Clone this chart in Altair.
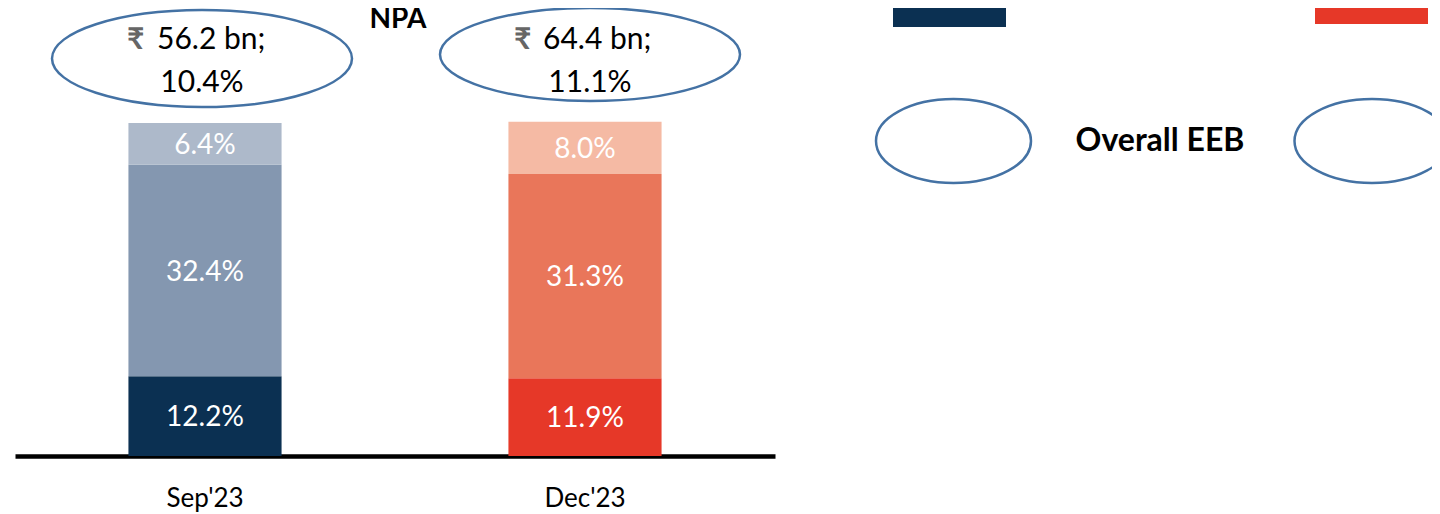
import altair as alt
import pandas as pd

# ---- data ----
periods = ["Sep'23", "Dec'23"]
segments = ["Segment 1", "Segment 2", "Segment 3"]          # bottom -> top
sep_values = [12.2, 32.4, 6.4]
dec_values = [11.9, 31.3, 8.0]
npa_amount_bn = [56.2, 64.4]
npa_ratio_pct = [10.4, 11.1]
right_row_label = "Overall EEB"
title_text = "NPA"

sep_colors = ["#0B3052", "#8497B0", "#ADB9CA"]
dec_colors = ["#E63828", "#E9765A", "#F5BAA4"]

FONT = "Lato"

rows = []
for p, vals in zip(periods, [sep_values, dec_values]):
    for i, (s, v) in enumerate(zip(segments, vals)):
        rows.append({"period": p, "segment": s, "order": i, "value": v,
                     "key": f"{p}|{s}", "label": f"{v:.1f}%"})
df = pd.DataFrame(rows)

keys = [f"{p}|{s}" for p in periods for s in segments]
color_range = sep_colors + dec_colors

ann = pd.DataFrame({
    "period": periods,
    "amount": [f"{a:.1f} bn;" for a in npa_amount_bn],
    "ratio": [f"{r:.1f}%" for r in npa_ratio_pct],
    "rupee": ["₹"] * len(periods),
})

x_enc = alt.X(
    "period:N",
    sort=periods,
    title=None,
    scale=alt.Scale(domain=periods, range=[7, 767], paddingInner=0.597, paddingOuter=0.2985),
    axis=alt.Axis(
        labelAngle=0, ticks=False, tickSize=0, grid=False,
        domainColor="#000000", domainWidth=4.5,
        labelFont=FONT, labelFontSize=26, labelColor="#000000",
        labelBaseline="alphabetic", labelPadding=50,
    ),
)

y_scale = alt.Scale(domain=[0, 68.6], nice=False, zero=True)

bars = alt.Chart(df).mark_bar(stroke=None).encode(
    x=x_enc,
    y=alt.Y("sum(value):Q", stack="zero", scale=y_scale, axis=None),
    color=alt.Color("key:N", scale=alt.Scale(domain=keys, range=color_range), legend=None),
    order=alt.Order("order:Q", sort="ascending"),
)

labels = alt.Chart(df).transform_stack(
    stack="value", groupby=["period"], as_=["v0", "v1"],
    sort=[alt.SortField("order", order="ascending")],
).transform_calculate(mid="(datum.v0 + datum.v1) / 2").mark_text(
    font=FONT, fontSize=28, color="#FFFFFF", baseline="alphabetic", dy=10
).encode(
    x=x_enc,
    y=alt.Y("mid:Q", scale=y_scale, axis=None),
    text="label:N",
)


def ellipse_path(ratio):
    k = 0.5523
    r = ratio
    return (f"M -1,0 C -1,{-k*r:.4f} {-k:.4f},{-r:.4f} 0,{-r:.4f} "
            f"C {k:.4f},{-r:.4f} 1,{-k*r:.4f} 1,0 "
            f"C 1,{k*r:.4f} {k:.4f},{r:.4f} 0,{r:.4f} "
            f"C {-k:.4f},{r:.4f} -1,{k*r:.4f} -1,0 Z")


ELL_COLOR = "#4472A4"

# callout ellipses (decoration) above each bar
ell_left = alt.Chart(ann.iloc[[0]]).mark_point(
    shape=ellipse_path(97 / 300), size=300 ** 2, filled=False,
    stroke=ELL_COLOR, strokeWidth=2.5, opacity=1,
).encode(x=alt.value(194), y=alt.value(50.5))
ell_right = alt.Chart(ann.iloc[[1]]).mark_point(
    shape=ellipse_path(93 / 300), size=300 ** 2, filled=False,
    stroke=ELL_COLOR, strokeWidth=2.5, opacity=1,
).encode(x=alt.value(582), y=alt.value(46.5))

# callout texts, one layer per period (small per-period offsets as on the slide)
text_offsets = {periods[0]: (-78, -48, -3), periods[1]: (-71, -42, 5)}
callout_layers = []
for p in periods:
    d_rupee, d_amount, d_ratio = text_offsets[p]
    base = alt.Chart(ann).transform_filter(alt.datum.period == p)
    callout_layers.append(base.mark_text(
        font=FONT, fontSize=30, fontWeight="bold", color="#666666",
        baseline="alphabetic", align="left", dx=d_rupee
    ).encode(x=x_enc, y=alt.value(41), text="rupee:N"))
    callout_layers.append(base.mark_text(
        font=FONT, fontSize=30, color="#000000", baseline="alphabetic", align="left", dx=d_amount
    ).encode(x=x_enc, y=alt.value(41), text="amount:N"))
    callout_layers.append(base.mark_text(
        font=FONT, fontSize=30, color="#000000", baseline="alphabetic", dx=d_ratio
    ).encode(x=x_enc, y=alt.value(84), text="ratio:N"))

title = alt.Chart(pd.DataFrame({"t": [title_text]})).mark_text(
    font=FONT, fontSize=28, fontWeight="bold", color="#000000", baseline="alphabetic"
).encode(x=alt.value(390), y=alt.value(20), text="t:N")

# ---- right-hand legend-like table ----
sw = pd.DataFrame({"period": periods})
swatch_sep = alt.Chart(sw.iloc[[0]]).mark_rect(color=sep_colors[0]).encode(
    x=alt.value(885), x2=alt.value(998), y=alt.value(0), y2=alt.value(19))
swatch_dec = alt.Chart(sw.iloc[[1]]).mark_rect(color=dec_colors[0]).encode(
    x=alt.value(1307), x2=alt.value(1420), y=alt.value(0), y2=alt.value(16))

row_label = alt.Chart(pd.DataFrame({"t": [right_row_label]})).mark_text(
    font=FONT, fontSize=32, fontWeight="bold", color="#000000", baseline="alphabetic"
).encode(x=alt.value(1152), y=alt.value(143), text="t:N")

right_ell_a = alt.Chart(sw.iloc[[0]]).mark_point(
    shape=ellipse_path(84 / 155), size=155 ** 2, filled=False,
    stroke=ELL_COLOR, strokeWidth=2.5, opacity=1,
).encode(x=alt.value(945.5), y=alt.value(133))
right_ell_b = alt.Chart(sw.iloc[[1]]).mark_point(
    shape=ellipse_path(84 / 155), size=155 ** 2, filled=False,
    stroke=ELL_COLOR, strokeWidth=2.5, opacity=1,
).encode(x=alt.value(1364), y=alt.value(133))

chart = alt.layer(
    bars, labels, ell_left, ell_right, *callout_layers, title,
    swatch_sep, swatch_dec, row_label, right_ell_a, right_ell_b,
).properties(
    width=1424, height=448,
    padding={"left": 0, "top": 0, "right": 0, "bottom": 56},
    autosize=alt.AutoSizeParams(type="none"),
    background="#FFFFFF",
).configure_view(stroke=None)

chart.save("out.html", embed_options={"renderer": "svg", "actions": False})
